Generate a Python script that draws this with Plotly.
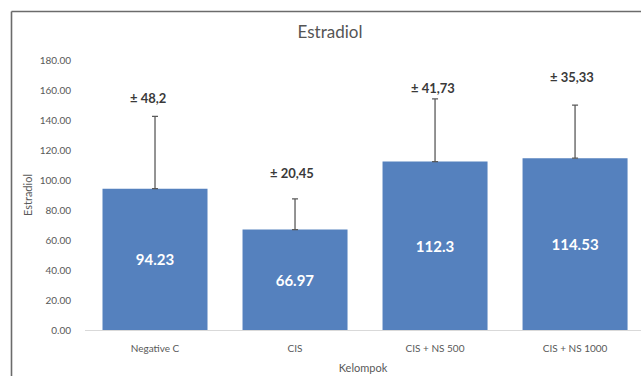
import plotly.graph_objects as go

categories = ["Negative C", "CIS", "CIS + NS 500", "CIS + NS 1000"]
means = [94.23, 66.97, 112.3, 114.53]
sds = [48.2, 20.45, 41.73, 35.33]
sd_labels = ["± 48,2", "± 20,45", "± 41,73", "± 35,33"]
y_ticks = [0, 20, 40, 60, 80, 100, 120, 140, 160, 180]

# label placement (pixels above the error-bar tip)
label_yshift = [19, 27, 12, 29]
label_xshift = [-7, -3, -2, -3]

FONT = "Lato"
W, H = 641, 376
ml, mr, mt, mb = 85, 0, 60, 46
pw = W - ml - mr
ph = H - mt - mb

fig = go.Figure()
fig.add_trace(go.Bar(
    x=categories, y=means,
    width=0.75,
    marker=dict(color="#5581BE", line=dict(width=0)),
    text=[f"{v:g}" for v in means],
    textposition="inside", insidetextanchor="middle",
    textfont=dict(family=FONT, size=15, color="white", weight="bold"),
    error_y=dict(type="data", array=sds, arrayminus=[0] * len(sds), symmetric=False,
                 color="#5a5a5a", thickness=1.3, width=3),
    hoverinfo="skip",
))

for c, m, s, lab, dy, dx in zip(categories, means, sds, sd_labels, label_yshift, label_xshift):
    fig.add_annotation(x=c, y=m + s, text=f"<b>{lab}</b>", showarrow=False,
                       yanchor="bottom", yshift=dy - 11, xshift=dx,
                       font=dict(family=FONT, size=13, color="#3a3a3a"))

def px2x(px):
    return (px - ml) / pw

def py2y(py):
    return (H - mb - py) / ph

frame_color = "#6b6b6b"
fig.add_shape(type="line", xref="paper", yref="paper",
              x0=px2x(11.5), x1=px2x(11.5), y0=py2y(11.5), y1=py2y(H + 5),
              line=dict(color=frame_color, width=1.6))
fig.add_shape(type="line", xref="paper", yref="paper",
              x0=px2x(11.5), x1=px2x(W + 5), y0=py2y(11.5), y1=py2y(11.5),
              line=dict(color=frame_color, width=1.6))

fig.update_layout(
    width=W, height=H,
    margin=dict(l=ml, r=mr, t=mt, b=mb, autoexpand=False),
    paper_bgcolor="white", plot_bgcolor="white",
    showlegend=False,
    bargap=0.25,
    title=dict(text="Estradiol", x=(330) / W, xanchor="center", y=1 - 32 / H, yanchor="middle",
               font=dict(family=FONT, size=17, color="#555555")),
    font=dict(family=FONT, color="#595959"),
)
fig.update_xaxes(
    range=[-0.5, 3.471],
    showline=True, linecolor="#d9d9d9", linewidth=1,
    showgrid=False, zeroline=False,
    ticks="outside", ticklen=9, tickcolor="rgba(0,0,0,0)",
    tickfont=dict(family=FONT, size=10, color="#595959"),
    title=dict(text="Kelompok", standoff=11, font=dict(family=FONT, size=11, color="#595959")),
)
fig.update_yaxes(
    range=[0, 180],
    tickvals=y_ticks, tickformat=".2f",
    showgrid=False, zeroline=False, showline=False,
    ticks="outside", ticklen=11, tickcolor="rgba(0,0,0,0)",
    tickfont=dict(family=FONT, size=10, color="#595959"),
    title=dict(text="Estradiol", standoff=4, font=dict(family=FONT, size=11, color="#595959")),
)

fig.write_html("out.html", config={"displayModeBar": False},
               post_script="document.body.style.margin='0';document.body.style.overflow='hidden';")
